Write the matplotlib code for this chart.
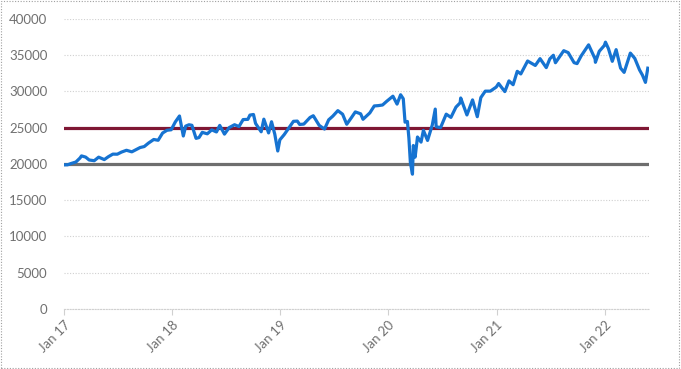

'''
Script to redraw the Dow Jones chart
with 20000 and 25000 reference lines
'''


#########################################

import numpy as np
import pandas as pd
import matplotlib
matplotlib.use('Agg')
import matplotlib.pyplot as plt
import matplotlib.dates as mdates
from matplotlib.patches import Rectangle


#########################################

# index closes (roughly two per month)
dates=['2017-01-03','2017-01-13','2017-01-25','2017-02-10','2017-02-24','2017-03-01','2017-03-15','2017-03-27',
       '2017-04-13','2017-04-28','2017-05-17','2017-05-31','2017-06-15','2017-06-30','2017-07-14','2017-07-31',
       '2017-08-18','2017-08-31','2017-09-15','2017-09-29','2017-10-13','2017-10-31','2017-11-15','2017-11-30',
       '2017-12-15','2017-12-29',
       '2018-01-12','2018-01-26','2018-02-08','2018-02-16','2018-02-27','2018-03-09','2018-03-23','2018-04-02',
       '2018-04-13','2018-04-30','2018-05-15','2018-05-31','2018-06-11','2018-06-27','2018-07-13','2018-07-31',
       '2018-08-15','2018-08-29','2018-09-14','2018-09-21','2018-10-03','2018-10-10','2018-10-29','2018-11-07',
       '2018-11-23','2018-12-03','2018-12-14','2018-12-24','2018-12-31',
       '2019-01-15','2019-01-31','2019-02-15','2019-02-28','2019-03-08','2019-03-22','2019-04-12','2019-04-23',
       '2019-05-13','2019-05-31','2019-06-14','2019-06-28','2019-07-15','2019-07-31','2019-08-14','2019-08-30',
       '2019-09-12','2019-09-30','2019-10-08','2019-10-31','2019-11-15','2019-11-29','2019-12-13','2019-12-27',
       '2020-01-17','2020-01-31','2020-02-12','2020-02-21','2020-02-27','2020-03-06','2020-03-11','2020-03-16',
       '2020-03-23','2020-03-26','2020-04-01','2020-04-09','2020-04-21','2020-04-29','2020-05-13','2020-05-29',
       '2020-06-08','2020-06-11','2020-06-26','2020-07-15','2020-07-31','2020-08-17','2020-08-31','2020-09-02',
       '2020-09-23','2020-10-12','2020-10-28','2020-11-09','2020-11-24','2020-12-11','2020-12-31',
       '2021-01-08','2021-01-29','2021-02-12','2021-02-26','2021-03-12','2021-03-24','2021-04-16','2021-04-30',
       '2021-05-12','2021-05-28','2021-06-18','2021-06-30','2021-07-12','2021-07-19','2021-08-16','2021-08-31',
       '2021-09-20','2021-09-30','2021-10-14','2021-10-29','2021-11-08','2021-11-30','2021-12-01','2021-12-14',
       '2021-12-31',
       '2022-01-04','2022-01-14','2022-01-27','2022-02-09','2022-02-24','2022-03-08','2022-03-29','2022-04-13',
       '2022-04-29','2022-05-09','2022-05-19','2022-05-27']

closes=[19881,19886,20069,20269,20822,21115,20950,20550,
        20453,20941,20607,21009,21360,21350,21638,21891,
        21675,21948,22268,22405,22871,23377,23272,24272,
        24652,24719,
        25803,26617,23860,25219,25410,25336,23533,23644,
        24360,24163,24706,24416,25322,24117,25019,25415,
        25162,26124,26154,26743,26828,25598,24443,26180,
        24285,25826,24101,21792,23327,
        24065,24999,25883,25916,25450,25502,26412,26656,
        25324,24815,26090,26600,27359,26864,25479,26403,
        27182,26917,26164,27046,28004,28051,28135,28645,
        29348,28256,29551,28992,25766,25864,23553,20188,
        18592,22552,20943,23719,23018,24633,23247,25383,
        27572,25128,25016,26870,26428,27844,28430,29100,
        26763,28838,26520,29158,30046,30046,30606,
        31098,29983,31458,30932,32779,32420,34200,33875,
        33587,34529,33290,34503,34996,33962,35625,35361,
        33970,33844,34912,35820,36432,34484,34022,35544,
        36338,
        36800,35912,34160,35768,33224,32632,35294,34564,
        32977,32246,31253,33213]

# reference levels
levels=[25000,20000]
levelCols=['#7f1734','#6e6e6e']

yTicks=list(range(0,40001,5000))
xTickDates=['2017-01-01','2018-01-01','2019-01-01','2020-01-01','2021-01-01','2022-01-01']
xTickLabels=['Jan 17','Jan 18','Jan 19','Jan 20','Jan 21','Jan 22']


#########################################

def drawChart(outName):
  '''Draw the index and the two levels'''
  plt.rcParams['font.family']=['Lato','DejaVu Sans']

  fig=plt.figure(figsize=(6.81,3.69),dpi=100)
  ax=fig.add_axes([0.094,0.1626,0.859,0.786])

  x=pd.to_datetime(dates)
  ax.plot(x,closes,color='#1673d1',lw=2.3,zorder=4,solid_joinstyle='round')

  for lev,col in zip(levels,levelCols):
    ax.axhline(lev,color=col,lw=2.3,zorder=3)

  ax.set_ylim(0,40000)
  ax.set_yticks(yTicks)
  ax.set_xlim(pd.Timestamp('2017-01-01'),pd.Timestamp('2022-05-31'))
  ax.set_xticks(pd.to_datetime(xTickDates))
  ax.set_xticklabels(xTickLabels,rotation=45,ha='right',rotation_mode='anchor')

  ax.grid(axis='y',color='#d0d0d0',ls=(0,(1,1.5)),lw=0.8)
  ax.set_axisbelow(True)
  for s in ['top','right','left']:
    ax.spines[s].set_visible(False)
  ax.spines['bottom'].set_color('#d0d0d0')
  ax.spines['bottom'].set_linestyle((0,(1,1.5)))
  ax.tick_params(axis='y',length=0,pad=12,labelsize=9.5,labelcolor='#707070')
  ax.tick_params(axis='x',length=4,color='#d0d0d0',pad=3,labelsize=9.5,labelcolor='#707070')

  # dotted frame round the whole picture
  fig.patches.append(Rectangle((0.002,0.003),0.995,0.994,transform=fig.transFigure,
                               fill=False,ec='#a0a0a0',lw=0.8,ls=(0,(1,1.5))))

  fig.savefig(outName,dpi=100)
  plt.close(fig)
  print("Graph to",outName)
  return


#########################################

if __name__ == '__main__':
  '''Main block'''
  drawChart('out.png')

#########################################
